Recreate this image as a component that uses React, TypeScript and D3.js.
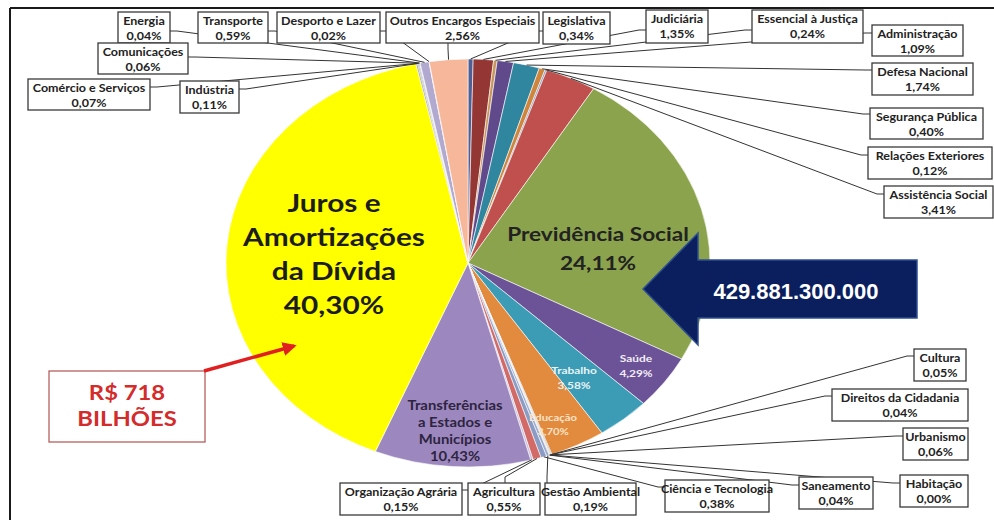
import React from 'react';
import * as d3 from 'd3';

// ---------- DATA ----------
const categories = [
  'Legislativa', 'Judiciária', 'Essencial à Justiça', 'Administração', 'Defesa Nacional',
  'Segurança Pública', 'Relações Exteriores', 'Assistência Social', 'Previdência Social', 'Saúde',
  'Trabalho', 'Educação', 'Cultura', 'Direitos da Cidadania', 'Urbanismo',
  'Habitação', 'Saneamento', 'Gestão Ambiental', 'Ciência e Tecnologia', 'Agricultura',
  'Organização Agrária', 'Transferências a Estados e Municípios', 'Juros e Amortizações da Dívida', 'Indústria', 'Comércio e Serviços',
  'Comunicações', 'Energia', 'Transporte', 'Desporto e Lazer', 'Outros Encargos Especiais',
];
const percentages = [
  0.34, 1.35, 0.24, 1.09, 1.74,
  0.40, 0.12, 3.41, 24.11, 4.29,
  3.58, 3.70, 0.05, 0.04, 0.06,
  0.00, 0.04, 0.19, 0.38, 0.55,
  0.15, 10.43, 40.30, 0.11, 0.07,
  0.06, 0.04, 0.59, 0.02, 2.56,
];
const sliceColors = [
  '#4f5f95', '#943634', '#c8955a', '#604a8c', '#30869e',
  '#d0853c', '#7f9bc8', '#c0504d', '#8ba34d', '#6c5296',
  '#3c9bb5', '#e28a3e', '#4f6fa8', '#a84543', '#86a845',
  '#7060a0', '#c8a070', '#9aaad0', '#8a9cc4', '#d26a68',
  '#c8bfdc', '#9c88bf', '#ffff00', '#9c9c9c', '#7a7a7a',
  '#5a6a9a', '#c0c0c0', '#b2a9d0', '#d8d0e8', '#f7b79b',
];
const totalLabel = '429.881.300.000';
const debtLabel = ['R$ 718', 'BILHÕES'];

const fmt = (v: number) => v.toFixed(2).replace('.', ',') + '%';

// ---------- LAYOUT ----------
const W = 994, H = 520;
const CX = 468, CY = 263, RX = 242, RY = 204;
const SX = RX / RY;
const TS = 1.19; // horizontal text stretch of the original picture

type Box = { name: string; x0: number; y0: number; x1: number; y1: number; ax: number; ay: number; side: 'l' | 'r' | 't' | 'b' };
const boxLayout: Box[] = [
  { name: 'Energia', x0: 118, y0: 12, x1: 170, y1: 43, ax: 170, ay: 31, side: 'r' },
  { name: 'Transporte', x0: 198, y0: 12, x1: 268, y1: 43, ax: 268, ay: 31, side: 'r' },
  { name: 'Desporto e Lazer', x0: 277, y0: 12, x1: 380, y1: 43, ax: 380, ay: 31, side: 'r' },
  { name: 'Outros Encargos Especiais', x0: 386, y0: 12, x1: 539, y1: 43, ax: 448, ay: 43, side: 'b' },
  { name: 'Comunicações', x0: 98, y0: 43, x1: 188, y1: 74, ax: 188, ay: 57, side: 'r' },
  { name: 'Comércio e Serviços', x0: 28, y0: 79, x1: 150, y1: 110, ax: 150, ay: 87, side: 'r' },
  { name: 'Indústria', x0: 180, y0: 81, x1: 239, y1: 113, ax: 239, ay: 89, side: 'r' },
  { name: 'Legislativa', x0: 543, y0: 12, x1: 610, y1: 44, ax: 543, ay: 31, side: 'l' },
  { name: 'Judiciária', x0: 646, y0: 10, x1: 708, y1: 43, ax: 646, ay: 30, side: 'l' },
  { name: 'Essencial à Justiça', x0: 752, y0: 10, x1: 863, y1: 43, ax: 752, ay: 30, side: 'l' },
  { name: 'Administração', x0: 872, y0: 25, x1: 963, y1: 56, ax: 872, ay: 33, side: 'l' },
  { name: 'Defesa Nacional', x0: 872, y0: 63, x1: 973, y1: 95, ax: 872, ay: 70, side: 'l' },
  { name: 'Segurança Pública', x0: 870, y0: 108, x1: 983, y1: 139, ax: 870, ay: 114, side: 'l' },
  { name: 'Relações Exteriores', x0: 868, y0: 147, x1: 992, y1: 179, ax: 868, ay: 155, side: 'l' },
  { name: 'Assistência Social', x0: 884, y0: 186, x1: 993, y1: 218, ax: 884, ay: 194, side: 'l' },
  { name: 'Cultura', x0: 914, y0: 349, x1: 966, y1: 381, ax: 914, ay: 356, side: 'l' },
  { name: 'Direitos da Cidadania', x0: 832, y0: 389, x1: 968, y1: 421, ax: 832, ay: 396, side: 'l' },
  { name: 'Urbanismo', x0: 903, y0: 428, x1: 968, y1: 460, ax: 903, ay: 436, side: 'l' },
  { name: 'Habitação', x0: 900, y0: 475, x1: 968, y1: 507, ax: 900, ay: 483, side: 'l' },
  { name: 'Saneamento', x0: 799, y0: 477, x1: 873, y1: 509, ax: 799, ay: 485, side: 'l' },
  { name: 'Ciência e Tecnologia', x0: 665, y0: 480, x1: 769, y1: 512, ax: 665, ay: 487, side: 'l' },
  { name: 'Gestão Ambiental', x0: 545, y0: 483, x1: 636, y1: 515, ax: 547, ay: 483, side: 't' },
  { name: 'Agricultura', x0: 468, y0: 483, x1: 540, y1: 515, ax: 505, ay: 483, side: 't' },
  { name: 'Organização Agrária', x0: 340, y0: 483, x1: 462, y1: 515, ax: 462, ay: 490, side: 'r' },
];

type Inner = { name: string; lines: string[]; x: number; y: number; size: number; gap: number; color: string; weight: number };
const innerLayout: Inner[] = [
  { name: 'Juros e Amortizações da Dívida', lines: ['Juros e', 'Amortizações', 'da Dívida'], x: 334, y: 212, size: 25, gap: 34, color: '#1c1c1c', weight: 700 },
  { name: 'Previdência Social', lines: ['Previdência Social'], x: 598, y: 241, size: 19, gap: 29, color: '#222222', weight: 700 },
  { name: 'Transferências a Estados e Municípios', lines: ['Transferências', 'a Estados e', 'Municípios'], x: 455, y: 410, size: 12.5, gap: 17, color: '#2e2440', weight: 700 },
  { name: 'Trabalho', lines: ['Trabalho'], x: 574, y: 374, size: 10, gap: 15, color: '#e6f4f8', weight: 700 },
  { name: 'Saúde', lines: ['Saúde'], x: 636, y: 362, size: 10, gap: 15, color: '#f2eef8', weight: 700 },
  { name: 'Educação', lines: ['Educação'], x: 553, y: 421, size: 9.5, gap: 14, color: '#fde3c8', weight: 700 },
];

const FONT = 'Lato, "Open Sans", sans-serif';

function SText({ x, y, size, color, weight = 700, children, anchor = 'middle', stretch = TS, family = FONT }: any) {
  return (
    <text
      transform={`translate(${x},${y}) scale(${stretch},1)`}
      textAnchor={anchor}
      fontFamily={family}
      fontSize={size}
      fontWeight={weight}
      fill={color}
    >
      {children}
    </text>
  );
}

export default function App() {
  const arcs = d3.pie<number>().sort(null).value((d) => d)(percentages);
  const arcGen = d3.arc<d3.PieArcDatum<number>>().innerRadius(0).outerRadius(RY);
  const pt = (a: number, k = 1): [number, number] => [CX + RX * k * Math.sin(a), CY - RY * k * Math.cos(a)];
  const idx = (n: string) => categories.indexOf(n);
  const mid = (i: number) => (arcs[i].startAngle + arcs[i].endAngle) / 2;

  // navy arrow geometry
  const arrowPts: [number, number][] = [
    [643, 289], [698, 233], [698, 260], [917, 260], [917, 318], [698, 318], [698, 345],
  ];

  return (
    <svg width={W} height={H} style={{ position: 'absolute', left: 0, top: 0, background: '#fff' }}>
      <rect x={0} y={0} width={W} height={H} fill="#ffffff" />
      {/* frame */}
      <line x1={10} y1={8} x2={W} y2={8} stroke="#1a1a1a" strokeWidth={2} />
      <line x1={10} y1={8} x2={10} y2={H} stroke="#1a1a1a" strokeWidth={2} />

      {/* pie */}
      <g transform={`translate(${CX},${CY}) scale(${SX},1)`}>
        {arcs.map((a, i) => (
          <path key={i} d={arcGen(a) || ''} fill={sliceColors[i]} stroke="#ffffff" strokeWidth={0.6} vectorEffect="non-scaling-stroke" />
        ))}
      </g>

      {/* leader lines */}
      {boxLayout.map((b) => {
        const i = idx(b.name);
        const [px, py] = pt(mid(i), 1);
        let ex = b.ax, ey = b.ay;
        if (b.side === 'l') ex = b.ax - 7;
        if (b.side === 'r') ex = b.ax + 7;
        if (b.side === 't') ey = b.ay - 6;
        if (b.side === 'b') ey = b.ay + 6;
        return (
          <polyline key={'l' + b.name} points={`${px},${py} ${ex},${ey} ${b.ax},${b.ay}`} fill="none" stroke="#333" strokeWidth={1} />
        );
      })}

      {/* label boxes */}
      {boxLayout.map((b) => {
        const i = idx(b.name);
        const cx = (b.x0 + b.x1) / 2;
        return (
          <g key={'b' + b.name}>
            <rect x={b.x0} y={b.y0} width={b.x1 - b.x0} height={b.y1 - b.y0} fill="#ffffff" stroke="#3a3a3a" strokeWidth={1.3} />
            <SText x={cx} y={b.y0 + 13} size={10.5} color="#222">{b.name}</SText>
            <SText x={cx} y={b.y0 + 28} size={10.5} color="#222">{fmt(percentages[i])}</SText>
          </g>
        );
      })}

      {/* in-pie labels */}
      {innerLayout.map((l) => {
        const i = idx(l.name);
        const all = [...l.lines, fmt(percentages[i])];
        return (
          <g key={'i' + l.name}>
            {all.map((s, k) => (
              <SText key={k} x={l.x} y={l.y + k * l.gap} size={l.size} color={l.color} weight={l.weight}>{s}</SText>
            ))}
          </g>
        );
      })}

      {/* navy arrow with total */}
      <polygon points={arrowPts.map((p) => p.join(',')).join(' ')} fill="#0b1f5e" stroke="#2f4f90" strokeWidth={1.5} />
      <text x={796} y={299} textAnchor="middle" fontFamily='"Liberation Sans", Arial, sans-serif' fontWeight={700} fontSize={22} fill="#ffffff">{totalLabel}</text>

      {/* red callout */}
      <rect x={49} y={371} width={156} height={71} fill="#ffffff" stroke="#b86060" strokeWidth={1.3} />
      <SText x={127} y={400} size={20} color="#d42b2b">{debtLabel[0]}</SText>
      <SText x={127} y={426} size={20} color="#d42b2b">{debtLabel[1]}</SText>
      <defs>
        <marker id="redHead" viewBox="0 0 10 10" refX={8} refY={5} markerWidth={4} markerHeight={4} orient="auto">
          <path d="M0,0 L10,5 L0,10 z" fill="#e02020" />
        </marker>
      </defs>
      <line x1={204} y1={371} x2={294} y2={346} stroke="#e02020" strokeWidth={3.5} markerEnd="url(#redHead)" />
    </svg>
  );
}
